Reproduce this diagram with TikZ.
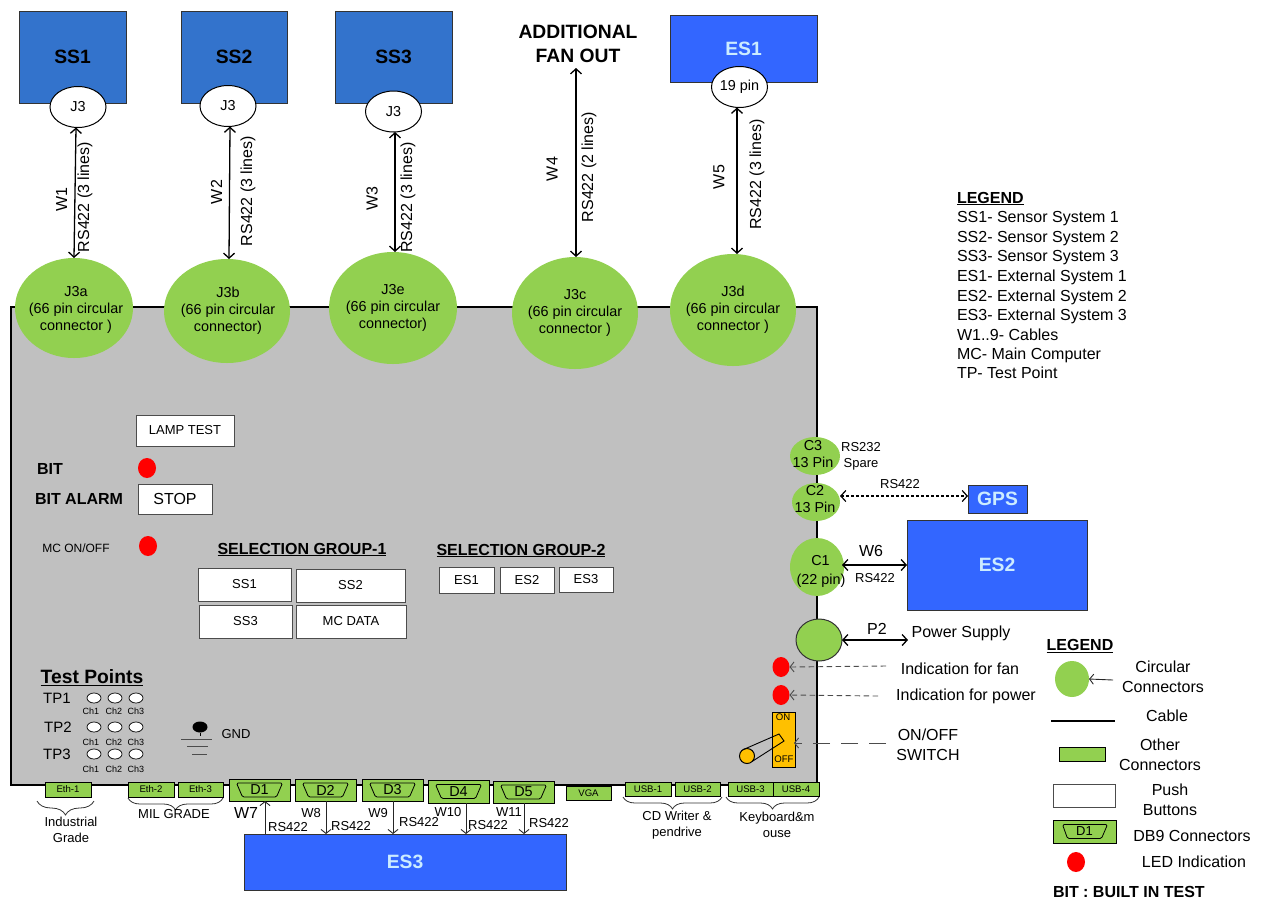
\documentclass[tikz,border=0pt]{standalone}
\usepackage{fontspec}
\setmainfont{Liberation Sans}
\usetikzlibrary{shapes.geometric,arrows.meta,decorations.pathreplacing}
\definecolor{cgreen}{HTML}{92D050}
\definecolor{cblue}{HTML}{3366FF}
\definecolor{sblue}{HTML}{3373CC}
\definecolor{cgray}{HTML}{C0C0C0}
\definecolor{corange}{HTML}{FFC000}
\definecolor{ltxt}{HTML}{CCECFF}
\tikzset{
  f9/.style={font=\fontsize{9}{11}\selectfont},
  f10/.style={font=\fontsize{9.6}{12}\selectfont},
  f12/.style={font=\fontsize{12}{15}\selectfont},
  f13/.style={font=\fontsize{13}{16}\selectfont},
  f14/.style={font=\fontsize{14.4}{17}\selectfont},
  f15/.style={font=\fontsize{15}{18.5}\selectfont},
  f16/.style={font=\fontsize{16}{20}\selectfont},
  f16b/.style={font=\fontsize{16}{20}\selectfont\bfseries},
  f19b/.style={font=\fontsize{19.3}{24}\selectfont\bfseries},
  txt/.style={inner sep=0pt,outer sep=0pt,align=center},
  base/.style={inner sep=0pt,outer sep=0pt,align=center,line width=1pt},
  sysbox/.style={base,draw=black!80,fill=sblue,f19b,text=black},
  extbox/.style={base,draw=black!80,fill=cblue,f19b,text=ltxt},
  btn/.style={base,draw=black!70,fill=white,f13},
  conn/.style={base,draw=black,fill=cgreen,f10},
  dbc/.style={base,draw=black,fill=cgreen},
  green/.style={base,fill=cgreen},
  led/.style={base,fill=red},
  tp/.style={base,draw=black,fill=white},
  cable/.style={line width=1.3pt,{Straight Barb[length=5pt,width=11pt]}-{Straight Barb[length=5pt,width=11pt]}},
  single/.style={line width=0.9pt,black!85,-{Straight Barb[length=4pt,width=10pt]}},
  brc/.style={line width=0.8pt,black!80,decorate,decoration={brace,amplitude=#1}},
}
\newcommand\bx[7][]{% style,name,x1,y1,x2,y2,text
  \pgfmathsetmacro\cxx{(#3+#5)/2}\pgfmathsetmacro\cyy{(#4+#6)/2}
  \pgfmathsetmacro\wdd{#5-#3}\pgfmathsetmacro\htt{#6-#4}
  \node[#1,rectangle,minimum width=\wdd pt,minimum height=\htt pt] (#2) at (\cxx,\cyy) {#7};}
\newcommand\el[6][]{% style,name,cx,cy,rx,ry
  \pgfmathsetmacro\wdd{2*#5}\pgfmathsetmacro\htt{2*#6}
  \node[#1,ellipse,minimum width=\wdd pt,minimum height=\htt pt] (#2) at (#3,#4) {};}
\newcommand\dbn[7][0]{% dy,name,x1,y1,x2,y2,text
  \bx[dbc]{#2}{#3}{#4}{#5}{#6}{}
  \draw[line width=0.8pt,black,rounded corners=1.5pt] ([shift={(-23,-7)}]#2.center) -- ([shift={(23,-7)}]#2.center) -- ([shift={(17,7)}]#2.center) -- ([shift={(-17,7)}]#2.center) -- cycle;
  \node[txt,f14] (#2-t) at (#2.center) {#7};}
\begin{document}
\begin{tikzpicture}[x=1pt,y=-1pt]
\useasboundingbox (0,0) rectangle (1266,898);
% panel
\bx[base,draw=black,fill=cgray,line width=1.6pt]{panel}{11}{307}{817}{785}{}
% systems
\bx[sysbox]{SS1}{19}{11}{126}{103}{SS1}
\bx[sysbox]{SS2}{181}{11}{287}{103}{SS2}
\bx[sysbox]{SS3}{335}{11}{452}{103}{SS3}
\bx[extbox]{ES1}{670}{15}{817}{82}{ES1}
\bx[extbox]{ES2}{907}{520}{1087}{610}{ES2}
\bx[extbox]{GPS}{968}{485}{1027}{513}{GPS}
\bx[extbox]{ES3}{244}{834}{566}{890}{ES3}
\node[txt,f19b] (fan) at (578,44) {ADDITIONAL\\FAN OUT};
% small J3
\el[tp]{J1}{78}{107}{28}{20.5}
\el[tp]{J2}{228}{106}{28}{20.5}
\el[tp]{J3}{393.5}{111.5}{28}{20.5}
\el[tp]{J5}{739.5}{87}{28}{20.5}
\node[txt,f14] (J1t) at (78,107) {J3};
\node[txt,f14] (J2t) at (228,106) {J3};
\node[txt,f14] (J3t) at (393.5,111.5) {J3};
\node[txt,f14] (J5t) at (739.5,87) {19 pin};
% large connectors
\el[green]{Ja}{74}{308}{59}{50}
\el[green]{Jb}{227}{311}{63}{52}
\el[green]{Je}{393}{308}{64}{56}
\el[green]{Jc}{575}{313}{63}{56}
\el[green]{Jd}{733}{310}{63}{56}
\node[txt,f14] (Jat) at (76,310) {J3a\\(66 pin circular\\connector )};
\node[txt,f14] (Jbt) at (228,311) {J3b\\(66 pin circular\\connector)};
\node[txt,f14] (Jet) at (393,308) {J3e\\(66 pin circular\\connector)};
\node[txt,f14] (Jct) at (575,313) {J3c\\(66 pin circular\\connector )};
\node[txt,f14] (Jdt) at (733,310) {J3d\\(66 pin circular\\connector )};
% cables
\draw[cable] ([xshift=-2pt]J1.south) -- (Ja.north);
\draw[cable] ([xshift=2pt]J2.south) -- ([xshift=2pt]Jb.north);
\draw[cable] ([xshift=1.5pt]J3.south) -- ([xshift=2pt]Je.north);
\coordinate (fanb) at (576,68);
\draw[cable] (fanb) -- ([xshift=1pt]Jc.north);
\draw[cable] ([xshift=-2.5pt]J5.south) -- ([xshift=4pt]Jd.north);
\node[txt,f16,rotate=90] (w1) at (61.5,199.5) {W1};
\node[txt,f16,rotate=90] (w2) at (216.5,192) {W2};
\node[txt,f16,rotate=90] (w3) at (372,198.5) {W3};
\node[txt,f16,rotate=90] (w4) at (552,169) {W4};
\node[txt,f16,rotate=90] (w5) at (719,177) {W5};
\node[txt,f16,rotate=90] (r1) at (85,197) {RS422 (3 lines)};
\node[txt,f16,rotate=90] (r2) at (248,191) {RS422 (3 lines)};
\node[txt,f16,rotate=90] (r3) at (408,197.5) {RS422 (3 lines)};
\node[txt,f16,rotate=90] (r4) at (589,167) {RS422 (2 lines)};
\node[txt,f16,rotate=90] (r5) at (757,174.5) {RS422 (3 lines)};
% left panel
\bx[btn]{lamp}{136}{415}{234}{446}{LAMP TEST}
\node[txt,f16b] (bit) at (50,469) {BIT};
\el[led]{l1}{147}{468}{9}{10}
\node[txt,f16b] (bita) at (79,499) {BIT ALARM};
\bx[btn,f16]{stop}{138}{484}{212}{514}{STOP}
\node[txt,f12] (mc) at (76,548) {MC ON/OFF};
\el[led]{l2}{148}{546}{9}{10}
\node[txt,f16b] (g1) at (302,549.5) {\underline{SELECTION GROUP-1}};
\node[txt,f16b] (g2) at (521,550.5) {\underline{SELECTION GROUP-2}};
\bx[btn]{b1}{198}{568}{291}{601}{SS1}
\bx[btn]{b2}{296}{569}{405}{602}{SS2}
\bx[btn]{b3}{199}{605}{292}{638}{SS3}
\bx[btn]{b4}{296}{605}{406}{638}{MC DATA}
\bx[btn]{b5}{439}{567}{494}{593}{ES1}
\bx[btn]{b6}{500}{567}{554}{593}{ES2}
\bx[btn]{b7}{559}{567}{613}{592}{ES3}
% test points
\node[txt,f19b] (tpt) at (92,678) {\underline{Test Points}};
\node[txt,f15] (tp1) at (57,698) {TP1};
\node[txt,f15] (tp2) at (58,727) {TP2};
\node[txt,f15] (tp3) at (57,754) {TP3};
\foreach \yy/\yc/\nn in {698/711/a,727/742/b,754/769/c}{
  \el[tp,line width=0.7pt]{t\nn1}{94}{\yy}{7}{5}
  \el[tp,line width=0.7pt]{t\nn2}{115}{\yy}{7}{5}
  \el[tp,line width=0.7pt]{t\nn3}{136}{\yy}{7}{5}
  \node[txt,f9] (c\nn1) at (91,\yc) {Ch1};
  \node[txt,f9] (c\nn2) at (114,\yc) {Ch2};
  \node[txt,f9] (c\nn3) at (136,\yc) {Ch3};
}
% ground
\el[base,fill=black]{gb}{200}{727}{7.5}{5.5}
\draw[line width=0.9pt] (gb.south) -- (200,736);
\draw[line width=1pt,black!70] (181,739) -- (212,739) (187,746) -- (208,746) (192,754) -- (207,754);
\node[txt,f13] (gnd) at (236,734) {GND};
% connectors along the bottom
\bx[conn]{e1}{45}{782}{91}{797}{Eth-1}
\bx[conn]{e2}{128}{782}{174}{797}{Eth-2}
\bx[conn]{e3}{178}{782}{223}{797}{Eth-3}
\dbn{D1}{229}{779}{290}{801}{D1}
\dbn{D2}{295}{779}{356}{801}{D2}
\dbn{D3}{362}{779}{423}{801}{D3}
\dbn{D4}{428}{780}{489}{803}{D4}
\dbn{D5}{493}{781}{554}{803}{D5}
\bx[conn]{vga}{566}{786}{611}{800}{VGA}
\bx[conn]{u1}{625}{782}{671}{796}{USB-1}
\bx[conn]{u2}{675}{782}{720}{796}{USB-2}
\bx[conn]{u3}{728}{782}{773}{796}{USB-3}
\bx[conn]{u4}{773}{782}{819}{796}{USB-4}
% braces
\draw[brc=14pt] (94,801) -- (37,801);
\draw[brc=12pt] (223,798) -- (128,798);
\draw[brc=12pt] (722,797) -- (623,797);
\draw[brc=12pt] (819,797) -- (726,797);
\node[txt,f13] (ig) at (71,830) {Industrial\\Grade};
\node[txt,f13] (ml) at (174,814) {MIL GRADE};
\node[txt,f13] (cd) at (677,825) {CD Writer \&\\pendrive};
\node[txt,f13] (kb) at (777,825) {Keyboard\&m\\ouse};
% DB9 lines
\coordinate (a7) at (265,834); \coordinate (a7t) at (265,801);
\coordinate (a8) at (326,801); \coordinate (a8t) at (326,834);
\coordinate (a9) at (393,801); \coordinate (a9t) at (393,834);
\coordinate (a10) at (466,803); \coordinate (a10t) at (466,834);
\coordinate (a11) at (524,803); \coordinate (a11t) at (524,834);
\draw[single] (a7) -- (a7t);
\draw[single] (a8) -- (a8t);
\draw[single] (a9) -- (a9t);
\draw[single] (a10) -- (a10t);
\draw[single] (a11) -- (a11t);
\node[txt,f16] (w7) at (246,813) {W7};
\node[txt,f13] (w8) at (311,813) {W8};
\node[txt,f13] (w9) at (378,813) {W9};
\node[txt,f13] (w10) at (448,812) {W10};
\node[txt,f13] (w11) at (509,812) {W11};
\node[txt,f13] (r7) at (288,827) {RS422};
\node[txt,f13] (r8) at (351,826) {RS422};
\node[txt,f13] (r9) at (419,822) {RS422};
\node[txt,f13] (r10) at (488,825) {RS422};
\node[txt,f13] (r11) at (549,823) {RS422};
% right side circular connectors
\el[green]{C3}{815}{456}{25}{19}
\el[green]{C2}{816}{502}{24}{19}
\el[green]{C1}{817}{567}{27}{29}
\node[txt,f14] (c3t) at (813,454) {C3\\13 Pin};
\node[txt,f14] (c2t) at (815,499) {C2\\13 Pin};
\node[txt,f14] (c1t) at (821,571) {\hspace{-1pt}C1\\[2pt](22 pin)};
\node[txt,f13] (rs232) at (861,456) {RS232\\Spare};
\draw[cable,line width=1.2pt,dash pattern=on 3pt off 2pt] ([yshift=6pt]C2.east) -- ([yshift=3pt]GPS.west);
\node[txt,f13] (r6a) at (900,484) {RS422};
\coordinate (c1e) at (842,565); \coordinate (es2w) at (907,565);
\draw[cable] (c1e) -- (es2w);
\node[txt,f16] (w6) at (871,551) {W6};
\node[txt,f13] (r6) at (875,578) {RS422};
% power
\el[green,draw=black!80]{pw}{819}{640}{23}{21}
\coordinate (psw) at (908,640);
\draw[cable] (pw.east) -- (psw);
\node[txt,f16] (p2) at (877,629) {P2};
\node[txt,f16] (ps) at (961,633) {Power Supply};
\el[led]{lf}{781}{667}{8.5}{10}
\el[led]{lp}{781}{695}{8.5}{10}
\node[txt,f16] (ifan) at (960,669) {Indication for fan};
\node[txt,f16] (ipw) at (966,696) {Indication for power};
\coordinate (dfan) at (886,666);
\coordinate (dpw) at (878,696);
\draw[single,dash pattern=on 5.5pt off 3.5pt,black!70] (dfan) -- (lf.east);
\draw[single,dash pattern=on 5.5pt off 3.5pt,black!70] (dpw) -- (lp.east);
% switch
\bx[base,draw=black,fill=corange]{sw}{772}{712}{795}{767}{}
\node[txt,f10] (on) at (783,717) {ON};
\node[txt,f10] (off) at (784,759) {OFF};
\coordinate (lv1) at (779,734); \coordinate (lv2) at (784,741);
\el[base,draw=black,fill=corange]{kn}{747}{756}{7.5}{7.5}
\draw[line width=0.9pt] (kn.124) -- (lv1) -- (lv2) -- (kn.-45);
\node[txt,f16] (onoff) at (928,745) {ON/OFF\\SWITCH};
\coordinate (dsw) at (886,743); \coordinate (swe) at (794,743);
\draw[single,dash pattern=on 17pt off 11pt,black!70] (dsw) -- (swe);
% legend 1
\node[txt,f16b,anchor=base west] (lg1) at (957,203) {\underline{LEGEND}};
\foreach \yy/\tt [count=\i] in {222/SS1- Sensor System 1,242/SS2- Sensor System 2,261/SS3- Sensor System 3,281/ES1- External System 1,301/ES2- External System 2,320/ES3- External System 3,340/W1..9- Cables,359/MC- Main Computer,378/TP- Test Point}{
  \node[txt,f16,anchor=base west] (lgt\i) at (957,\yy) {\tt};
}
% legend 2
\node[txt,f16b] (lg2) at (1080,646) {\underline{LEGEND}};
\el[green]{lc}{1072}{679}{17}{18}
\coordinate (lca) at (1113,680);
\draw[single] (lca) -- (lc.east);
\node[txt,f16] (lct) at (1163,677) {Circular\\Connectors};
\coordinate (ca1) at (1051,721); \coordinate (ca2) at (1115,721);
\draw[line width=1.8pt] (ca1) -- (ca2);
\node[txt,f16] (cat) at (1167,716) {Cable};
\bx[conn]{lo}{1059}{747}{1105}{761}{}
\node[txt,f16] (lot) at (1160,755) {Other\\Connectors};
\bx[btn]{lb}{1053}{784}{1115}{807}{}
\node[txt,f16] (lbt) at (1170,800) {Push\\Buttons};
\bx[dbc]{ld}{1053}{820}{1116}{843}{}
\draw[line width=0.8pt,rounded corners=1.5pt] ([shift={(-22,-7)}]ld.center) -- ([shift={(23,-7)}]ld.center) -- ([shift={(17,7)}]ld.center) -- ([shift={(-17,7)}]ld.center) -- cycle;
\node[txt,f13] (ldt) at (ld.center) {D1};
\node[txt,f16] (ldx) at (1192,836) {DB9 Connectors};
\el[led]{ll}{1076}{862}{9}{10}
\node[txt,f16] (llt) at (1194,862) {LED Indication};
\node[txt,f16b,anchor=base west] (bitl) at (1053,897) {BIT : BUILT IN TEST};
\end{tikzpicture}
\end{document}
